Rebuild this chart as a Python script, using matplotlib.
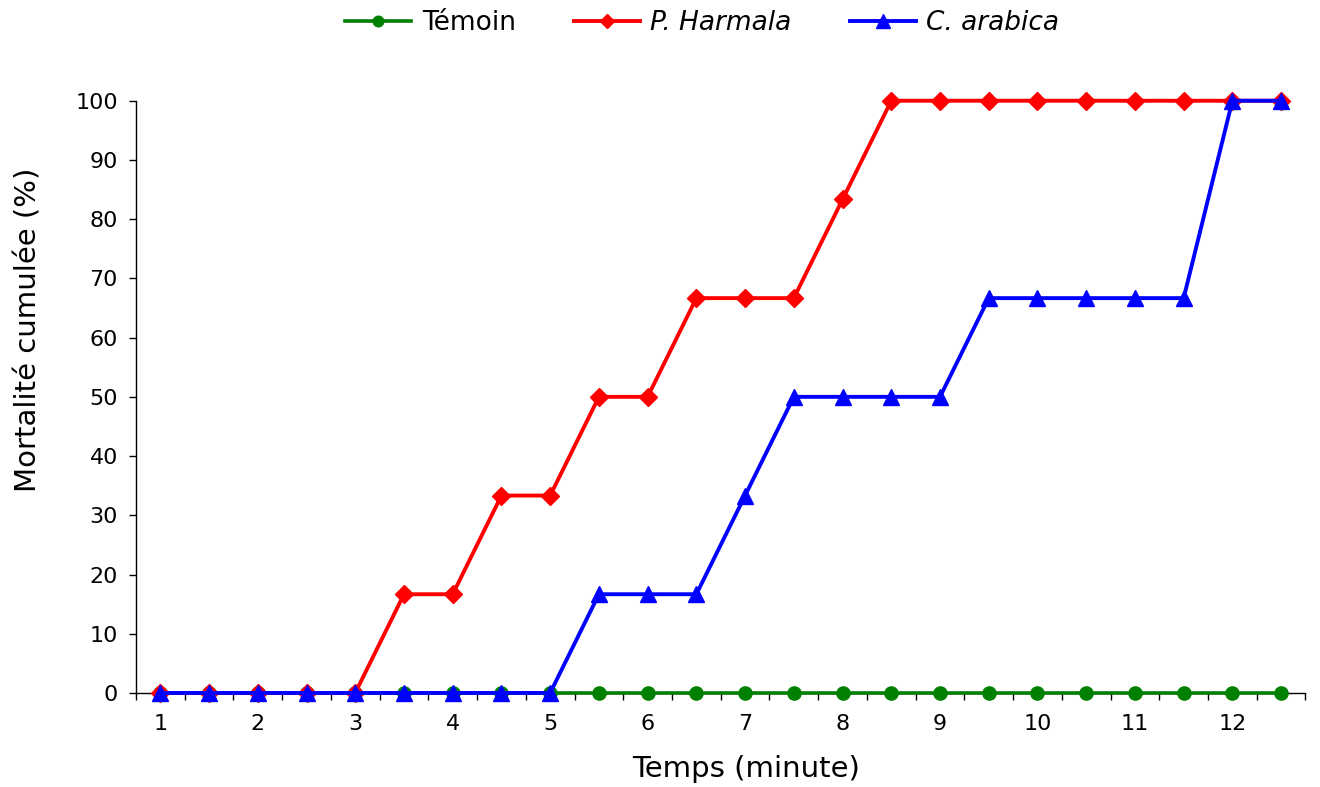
import matplotlib.pyplot as plt
from matplotlib.ticker import FixedLocator, NullFormatter

plt.rcParams['font.family'] = ['DejaVu Sans']

# temps en minutes, une mesure toutes les 30 s
temps = [1, 1.5, 2, 2.5, 3, 3.5, 4, 4.5, 5, 5.5, 6, 6.5,
         7, 7.5, 8, 8.5, 9, 9.5, 10, 10.5, 11, 11.5, 12, 12.5]
temoin = [0] * 24
harmala = [0, 0, 0, 0, 0, 16.67, 16.67, 33.33, 33.33, 50, 50, 66.67,
           66.67, 66.67, 83.33, 100, 100, 100, 100, 100, 100, 100, 100, 100]
arabica = [0, 0, 0, 0, 0, 0, 0, 0, 0, 16.67, 16.67, 16.67,
           33.33, 50, 50, 50, 50, 66.67, 66.67, 66.67, 66.67, 66.67, 100, 100]

x = list(range(len(temps)))

fig = plt.figure(figsize=(13.2, 7.87), dpi=100)
ax = fig.add_axes([0.103, 0.1195, 0.886, 0.7525])

ax.plot(x, temoin, color='#008000', lw=2.6, marker='o', ms=9.5, label='Témoin', clip_on=False, zorder=3)
ax.plot(x, harmala, color='#FF0000', lw=2.8, marker='D', ms=9.5, label='P. Harmala', clip_on=False, zorder=4)
ax.plot(x, arabica, color='#0000FF', lw=2.8, marker='^', ms=12, label='C. arabica', clip_on=False, zorder=5)

ax.set_xlim(-0.5, len(temps) - 0.5)
ax.set_ylim(0, 100)
ax.set_yticks(range(0, 101, 10))

# graduations entre les catégories, étiquettes sur les minutes entières
ax.xaxis.set_major_locator(FixedLocator([i - 0.5 for i in range(len(temps) + 1)]))
ax.xaxis.set_major_formatter(NullFormatter())
ax.xaxis.set_minor_locator(FixedLocator([i for i in x if temps[i] == int(temps[i])]))
ax.set_xticklabels([str(int(t)) for t in temps if t == int(t)], minor=True)
ax.tick_params(axis='x', which='major', length=5, width=1, direction='out')
ax.tick_params(axis='x', which='minor', length=0, pad=15, labelsize=16)
ax.tick_params(axis='y', length=5, width=1, direction='out', labelsize=16, pad=8)

for s in ['top', 'right']:
    ax.spines[s].set_visible(False)
for s in ['left', 'bottom']:
    ax.spines[s].set_linewidth(1)

ax.set_xlabel('Temps (minute)', fontsize=21)
ax.xaxis.set_label_coords(0.522, -0.105)
ax.set_ylabel('Mortalité cumulée (%)', fontsize=21)
ax.yaxis.set_label_coords(-0.08, 0.613)

handles, labels = ax.get_legend_handles_labels()
leg = fig.legend(handles, labels, loc='upper center', bbox_to_anchor=(0.532, 1.017),
                 ncol=3, frameon=False, fontsize=19, handlelength=2.5,
                 columnspacing=2.2, handletextpad=0.4, markerscale=0.8)
for t in leg.get_texts()[1:]:
    t.set_style('italic')

fig.savefig('out.png', dpi=100)
